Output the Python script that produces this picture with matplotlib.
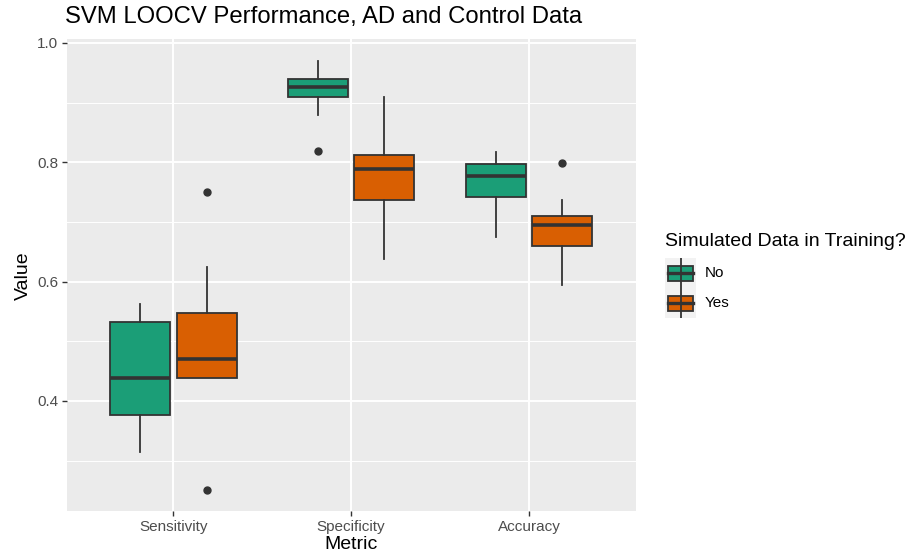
import matplotlib
matplotlib.use("Agg")
import matplotlib.pyplot as plt
from matplotlib.patches import Rectangle

plt.rcParams["font.family"] = ["Liberation Sans", "DejaVu Sans"]

# box statistics
metrics = ["Sensitivity", "Specificity", "Accuracy"]
groups = ["No", "Yes"]
colors = {"No": "#1B9E77", "Yes": "#D95F02"}

whislo = {"No": [0.314, 0.880, 0.675], "Yes": [0.439, 0.638, 0.594]}
q1 = {"No": [0.376, 0.910, 0.741], "Yes": [0.439, 0.737, 0.660]}
med = {"No": [0.439, 0.926, 0.777], "Yes": [0.470, 0.789, 0.695]}
q3 = {"No": [0.532, 0.940, 0.797], "Yes": [0.548, 0.812, 0.710]}
whishi = {"No": [0.563, 0.970, 0.817], "Yes": [0.625, 0.909, 0.736]}
fliers = {"No": [[], [0.819], []], "Yes": [[0.751, 0.251], [], [0.798]]}

W, H = 907, 559
fig = plt.figure(figsize=(W / 100, H / 100), dpi=100)

# panel placement in pixels
px_l, px_r, px_t, px_b = 66.7, 635.6, 39.4, 511
ax = fig.add_axes([px_l / W, 1 - px_b / H, (px_r - px_l) / W, (px_b - px_t) / H])
ax.set_facecolor("#EBEBEB")
for s in ax.spines.values():
    s.set_visible(False)

# grid
for y in [0.3, 0.5, 0.7, 0.9]:
    ax.axhline(y, color="white", lw=0.7, zorder=0)
for y in [0.4, 0.6, 0.8, 1.0]:
    ax.axhline(y, color="white", lw=1.4, zorder=0)
for x in range(1, 4):
    ax.axvline(x, color="white", lw=1.4, zorder=0)

offsets = {"No": -0.1875, "Yes": 0.1875}
for g in groups:
    stats = []
    for i in range(len(metrics)):
        stats.append(dict(whislo=whislo[g][i], q1=q1[g][i], med=med[g][i],
                          q3=q3[g][i], whishi=whishi[g][i], fliers=fliers[g][i]))
    pos = [i + 1 + offsets[g] for i in range(len(metrics))]
    ax.bxp(stats, positions=pos, widths=0.3375, patch_artist=True, showcaps=False,
           boxprops=dict(facecolor=colors[g], edgecolor="#333333", lw=1.3),
           medianprops=dict(color="#333333", lw=2.6),
           whiskerprops=dict(color="#333333", lw=1.3),
           flierprops=dict(marker="o", markerfacecolor="#333333", markeredgecolor="#333333",
                           markersize=5),
           manage_ticks=False, zorder=3)

ax.set_xlim(0.4, 3.6)
ax.set_ylim(0.2154, 1.006)
ax.set_xticks([1, 2, 3])
ax.set_xticklabels(metrics)
ax.set_yticks([0.4, 0.6, 0.8, 1.0])
ax.set_yticklabels(["0.4", "0.6", "0.8", "1.0"])
ax.tick_params(axis="both", colors="#333333", labelcolor="#4D4D4D", labelsize=11,
               length=3.7, width=1.0, pad=2.5)
ax.set_xlabel("Metric", fontsize=14, labelpad=2)
ax.set_ylabel("Value", fontsize=14, labelpad=4)

fig.text(px_l / W - 0.002, 1 - 17 / H, "SVM LOOCV Performance, AD and Control Data",
         fontsize=17.2, ha="left", va="center")

# legend drawn by hand
fig.text(665 / W, 1 - 242 / H, "Simulated Data in Training?", fontsize=14,
         ha="left", va="center")
for k, g in enumerate(groups):
    top = 258 + 30 * k
    lax = fig.add_axes([665 / W, 1 - (top + 30) / H, 31 / W, 30 / H])
    lax.set_xlim(0, 1)
    lax.set_ylim(0, 1)
    lax.axis("off")
    lax.add_patch(Rectangle((0, 0), 1, 1, facecolor="#F2F2F2", edgecolor="none"))
    lax.plot([0.5, 0.5], [0.0, 1.0], color="#333333", lw=1.3)
    lax.add_patch(Rectangle((0.1, 0.25), 0.8, 0.5, facecolor=colors[g],
                            edgecolor="#333333", lw=1.3))
    lax.plot([0.1, 0.9], [0.5, 0.5], color="#333333", lw=2.4)
    fig.text(705 / W, 1 - (top + 15) / H, g, fontsize=11, ha="left", va="center")

fig.savefig("out.png", dpi=100, facecolor="white")
